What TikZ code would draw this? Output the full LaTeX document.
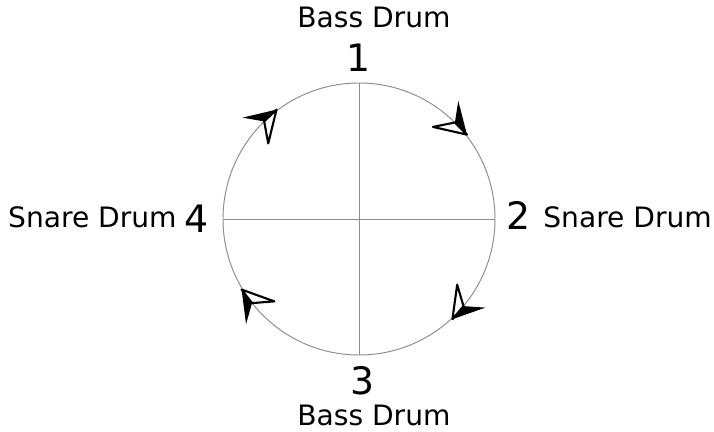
\documentclass[tikz,border=0pt]{standalone}
\usepackage{fontspec}
\setmainfont{DejaVu Sans}
\tikzset{
  drumlabel/.style={inner sep=0pt,font=\fontsize{16}{19}\selectfont},
  beatnum/.style={inner sep=0pt,font=\fontsize{21.5}{25}\selectfont,anchor=base},
  guide/.style={black!45,line width=0.55pt},
  headline/.style={line width=1.2pt,line join=round}
}
\begin{document}
\begin{tikzpicture}[x=0.02cm,y=0.02cm]
\useasboundingbox (-359,-213) rectangle (355,219);
\coordinate (ctr) at (0,0);
\foreach \p/\ang in {n/90,e/0,s/-90,w/180}
  \coordinate (\p) at (\ang:136);
\draw[guide] (ctr) circle (136);
\draw[guide] (n) -- (s);
\draw[guide] (w) -- (e);
% half-filled arrow heads, clockwise
\foreach \a in {127,38,-47,-149}{
  \begin{scope}[shift={(\a:137)},rotate=\a-90]
    \fill (0,0) -- (-32,14) -- (-17,-2) -- cycle;
    \draw[headline,fill=white] (0,0) -- (-17,-2) -- (-27,-22) -- cycle;
  \end{scope}
}
\node[beatnum] (one) at (0,147) {1};
\node[beatnum] (two) at (160,-11) {2};
\node[beatnum] (three) at (4,-176) {3};
\node[beatnum] (four) at (-162,-14) {4};
\node[drumlabel,anchor=base west] (bass1) at (-62,191) {Bass Drum};
\node[drumlabel,anchor=base west] (bass3) at (-62,-207) {Bass Drum};
\node[drumlabel,anchor=base west] (snare2) at (184,-9) {Snare Drum};
\node[drumlabel,anchor=base east] (snare4) at (-182,-9) {Snare Drum};
\end{tikzpicture}
\end{document}
